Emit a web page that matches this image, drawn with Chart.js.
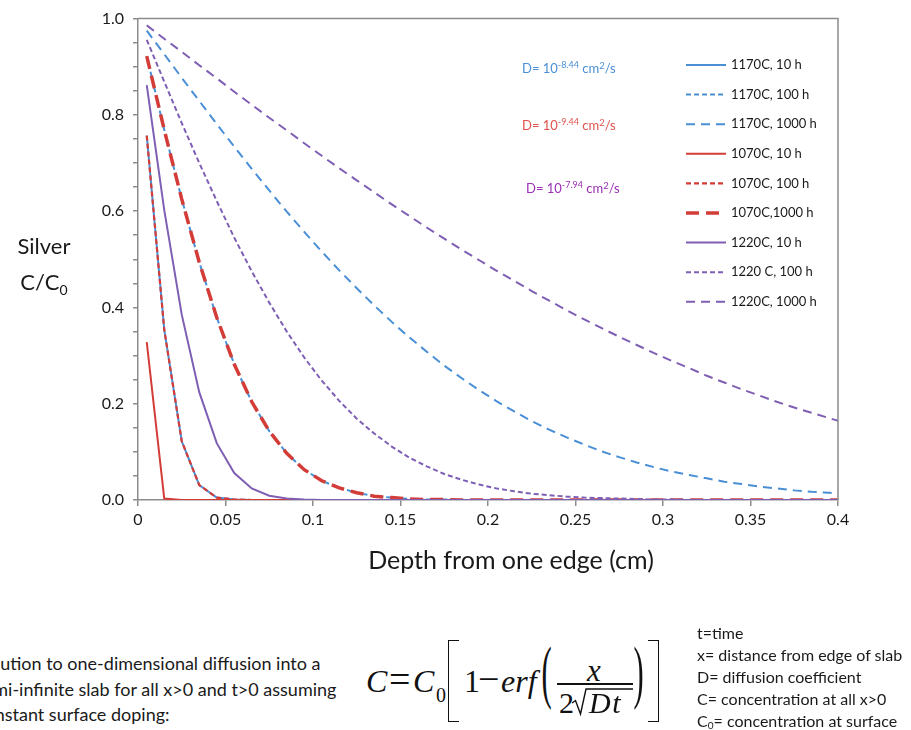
<!DOCTYPE html>
<html>
<head>
<meta charset="utf-8">
<script src="https://cdn.jsdelivr.net/npm/chart.js@4.4.0/dist/chart.umd.min.js"></script>
<style>
  body { margin: 0; background: #fff; }
  #page { position: relative; width: 911px; height: 730px; overflow: hidden; font-family: Lato, "Open Sans", sans-serif; color: #1a1a1a; }
  #myChart { position: absolute; left: 0; top: 0; }
  .abs { position: absolute; white-space: nowrap; }
  .ytitle { left: 0; width: 88px; text-align: center; font-size: 22px; line-height: 34px; }
  .xtitle { left: 311px; width: 400px; text-align: center; top: 544px; font-size: 25px; line-height: 30px; }
  .dnote { font-size: 13px; }
  .dnote sup { font-size: 9px; vertical-align: 5px; }
  .dnote .sq { font-size: 9.5px; vertical-align: 4px; }
  .notes { left: 697px; top: 622px; font-size: 16px; line-height: 22px; }
  .notes sub { font-size: 10px; vertical-align: -2px; }
  .intro { left: -24px; top: 651px; font-size: 18px; line-height: 25.5px; }

  /* formula pieces, placed one by one */
  .fx { position: absolute; white-space: nowrap; font-family: "Liberation Serif", "Times New Roman", serif; line-height: 1; color: #111; }
  .fx.it { font-style: italic; }
  .big { font-size: 32px; }
  .op { font-size: 38px; }
  .frac { font-size: 30px; }
  .tall { font-size: 34px; transform: scale(0.9, 2.05); transform-origin: 50% 20.5px; }
  .rule { position: absolute; background: #111; }
  .sq-l { position: absolute; border: 1.5px solid #111; border-right: none; }
  .sq-r { position: absolute; border: 1.5px solid #111; border-left: none; }
  .radical { position: absolute; left: 0; top: 0; overflow: visible; }
</style>
</head>
<body>
<div id="page">
  <canvas id="myChart" width="911" height="600"></canvas>

  <div class="abs ytitle" style="top:229px">Silver</div>
  <div class="abs ytitle" style="top:265px">C/C<sub style="font-size:14px">0</sub></div>
  <div class="abs xtitle">Depth from one edge (cm)</div>

  <div class="abs dnote" style="left:522px; top:59px; color:#4a8fd6">D= 10<sup>-8.44</sup> cm<span class="sq">2</span>/s</div>
  <div class="abs dnote" style="left:522px; top:116px; color:#e0524c">D= 10<sup>-9.44</sup> cm<span class="sq">2</span>/s</div>
  <div class="abs dnote" style="left:526px; top:179px; color:#9a2fb4">D= 10<sup>-7.94</sup> cm<span class="sq">2</span>/s</div>

  <div class="abs intro">Solution to one-dimensional diffusion into a<br>semi-infinite slab for all x&gt;0 and t&gt;0 assuming<br>constant surface doping:</div>

  <!-- C = C0 [ 1 - erf( x / 2 sqrt(Dt) ) ] -->
  <span class="fx it big" style="left:366px; top:665px">C</span>
  <span class="fx op" style="left:389px; top:660px">=</span>
  <span class="fx it big" style="left:413px; top:665px">C</span>
  <span class="fx" style="left:436px; top:685px; font-size:20px">0</span>
  <div class="sq-l" style="left:448px; top:640px; width:10px; height:80px"></div>
  <span class="fx big" style="left:464px; top:665px">1</span>
  <span class="fx op" style="left:478px; top:660px">&minus;</span>
  <span class="fx it big" style="left:501px; top:665px">erf</span>
  <span class="fx tall" style="left:541px; top:659px">(</span>
  <span class="fx it" style="left:587px; top:655px; font-size:31px">x</span>
  <div class="rule" style="left:557px; top:683px; width:76px; height:1.5px"></div>
  <span class="fx frac" style="left:559px; top:688px">2</span>
  <svg class="radical" width="911" height="730">
    <polyline points="572,703 575.5,700.5 580.5,714 586,689 633,689" fill="none" stroke="#111" stroke-width="1.4" />
  </svg>
  <span class="fx it frac" style="left:589px; top:688px; letter-spacing:1.5px">Dt</span>
  <span class="fx tall" style="left:633px; top:659px">)</span>
  <div class="sq-r" style="left:648px; top:640px; width:10px; height:80px"></div>

  <div class="abs notes">t=time<br>x= distance from edge of slab<br>D= diffusion coefficient<br>C= concentration at all x&gt;0<br>C<sub>0</sub>= concentration at surface</div>
</div>

<script>
  // Depth from one edge (cm)
  const depth = [
    0.005, 0.015, 0.025, 0.035, 0.045, 0.055, 0.065, 0.075, 0.085, 0.095,
    0.105, 0.115, 0.125, 0.135, 0.145, 0.155, 0.165, 0.175, 0.185, 0.195,
    0.205, 0.215, 0.225, 0.235, 0.245, 0.255, 0.265, 0.275, 0.285, 0.295,
    0.305, 0.315, 0.325, 0.335, 0.345, 0.355, 0.365, 0.375, 0.385, 0.395,
    0.405
  ];

  // C/C0 for each temperature and anneal time
  const c1170_10h = [
    0.757, 0.354, 0.122, 0.031, 0.005, 0.001, 0, 0, 0, 0,
    0, 0, 0, 0, 0, 0, 0, 0, 0, 0,
    0, 0, 0, 0, 0, 0, 0, 0, 0, 0,
    0, 0, 0, 0, 0, 0, 0, 0, 0, 0,
    0
  ];
  const c1170_100h = [
    0.922, 0.769, 0.625, 0.494, 0.379, 0.282, 0.204, 0.143, 0.097, 0.063,
    0.040, 0.025, 0.015, 0.008, 0.005, 0.002, 0.001, 0.001, 0, 0,
    0, 0, 0, 0, 0, 0, 0, 0, 0, 0,
    0, 0, 0, 0, 0, 0, 0, 0, 0, 0,
    0
  ];
  const c1170_1000h = [
    0.975, 0.926, 0.877, 0.829, 0.781, 0.734, 0.688, 0.643, 0.599, 0.557,
    0.516, 0.477, 0.440, 0.404, 0.370, 0.338, 0.308, 0.279, 0.253, 0.228,
    0.205, 0.184, 0.164, 0.146, 0.130, 0.115, 0.101, 0.089, 0.078, 0.068,
    0.059, 0.052, 0.045, 0.038, 0.033, 0.028, 0.024, 0.020, 0.017, 0.015,
    0.012
  ];
  const c1070_10h = [
    0.328, 0.003, 0, 0, 0, 0, 0, 0, 0, 0,
    0, 0, 0, 0, 0, 0, 0, 0, 0, 0,
    0, 0, 0, 0, 0, 0, 0, 0, 0, 0,
    0, 0, 0, 0, 0, 0, 0, 0, 0, 0,
    0
  ];
  const c1070_100h = [
    0.757, 0.354, 0.122, 0.031, 0.005, 0.001, 0, 0, 0, 0,
    0, 0, 0, 0, 0, 0, 0, 0, 0, 0,
    0, 0, 0, 0, 0, 0, 0, 0, 0, 0,
    0, 0, 0, 0, 0, 0, 0, 0, 0, 0,
    0
  ];
  const c1070_1000h = [
    0.922, 0.769, 0.625, 0.494, 0.379, 0.282, 0.204, 0.143, 0.097, 0.063,
    0.040, 0.025, 0.015, 0.008, 0.005, 0.002, 0.001, 0.001, 0, 0,
    0, 0, 0, 0, 0, 0, 0, 0, 0, 0,
    0, 0, 0, 0, 0, 0, 0, 0, 0, 0,
    0
  ];
  const c1220_10h = [
    0.862, 0.602, 0.385, 0.224, 0.118, 0.056, 0.024, 0.009, 0.003, 0.001,
    0, 0, 0, 0, 0, 0, 0, 0, 0, 0,
    0, 0, 0, 0, 0, 0, 0, 0, 0, 0,
    0, 0, 0, 0, 0, 0, 0, 0, 0, 0,
    0
  ];
  const c1220_100h = [
    0.956, 0.869, 0.783, 0.700, 0.621, 0.545, 0.475, 0.410, 0.350, 0.296,
    0.248, 0.206, 0.169, 0.138, 0.111, 0.088, 0.070, 0.054, 0.042, 0.032,
    0.024, 0.018, 0.013, 0.010, 0.007, 0.005, 0.004, 0.003, 0.002, 0.001,
    0.001, 0, 0, 0, 0, 0, 0, 0, 0, 0,
    0
  ];
  const c1220_1000h = [
    0.986, 0.958, 0.931, 0.903, 0.876, 0.848, 0.821, 0.794, 0.768, 0.741,
    0.715, 0.689, 0.664, 0.639, 0.614, 0.590, 0.566, 0.543, 0.520, 0.498,
    0.476, 0.455, 0.434, 0.414, 0.394, 0.375, 0.357, 0.339, 0.322, 0.305,
    0.289, 0.274, 0.258, 0.244, 0.230, 0.217, 0.204, 0.192, 0.181, 0.170,
    0.159
  ];

  const seriesLabels = [
    '1170C, 10 h', '1170C, 100 h', '1170C, 1000 h',
    '1070C, 10 h', '1070C, 100 h', '1070C,1000 h',
    '1220C, 10 h', '1220 C, 100 h', '1220C, 1000 h'
  ];
  const seriesValues = [
    c1170_10h, c1170_100h, c1170_1000h,
    c1070_10h, c1070_100h, c1070_1000h,
    c1220_10h, c1220_100h, c1220_1000h
  ];

  const BLUE = '#4a8fd6';
  const RED = '#d43c37';
  const PURPLE = '#7f5fb4';
  const AXIS = '#8c8c8c';

  const styles = [
    { color: BLUE, width: 2, dash: [] },
    { color: BLUE, width: 2, dash: [5, 3] },
    { color: BLUE, width: 2, dash: [9, 6] },
    { color: RED, width: 2, dash: [] },
    { color: RED, width: 2.2, dash: [5, 3] },
    { color: RED, width: 3.5, dash: [13, 7] },
    { color: PURPLE, width: 2, dash: [] },
    { color: PURPLE, width: 2, dash: [5, 3] },
    { color: PURPLE, width: 2, dash: [9, 6] }
  ];

  const datasets = seriesLabels.map((label, i) => ({
    label: label,
    data: depth.map((x, j) => ({ x: x, y: seriesValues[i][j] })),
    borderColor: styles[i].color,
    borderWidth: styles[i].width,
    borderDash: styles[i].dash,
    pointRadius: 0,
    tension: 0,
    fill: false,
    // later series sit on top
    order: seriesLabels.length - i
  }));

  // Frame on top/right edges plus the in-plot legend
  const framePlugin = {
    id: 'frame',
    afterDatasetsDraw(chart) {
      const { ctx, chartArea: a } = chart;
      ctx.save();
      ctx.strokeStyle = AXIS;
      ctx.lineWidth = 1.5;
      ctx.beginPath();
      ctx.moveTo(a.left, a.top);
      ctx.lineTo(a.right, a.top);
      ctx.lineTo(a.right, a.bottom);
      ctx.stroke();
      ctx.restore();
    },
    afterDraw(chart) {
      const ctx = chart.ctx;
      ctx.save();
      ctx.font = '13px Lato, sans-serif';
      ctx.textBaseline = 'middle';
      seriesLabels.forEach((label, i) => {
        const y = 65 + i * 29.6;
        ctx.strokeStyle = styles[i].color;
        ctx.lineWidth = styles[i].width;
        ctx.setLineDash(styles[i].dash);
        ctx.beginPath();
        ctx.moveTo(686, y);
        ctx.lineTo(726, y);
        ctx.stroke();
        ctx.setLineDash([]);
        ctx.fillStyle = '#1a1a1a';
        ctx.fillText(label, 731, y);
      });
      ctx.restore();
    }
  };

  const ctx = document.getElementById('myChart').getContext('2d');
  const myChart = new Chart(ctx, {
    type: 'line',
    data: { datasets: datasets },
    options: {
      responsive: false,
      animation: false,
      layout: { padding: { top: 17, right: 73, left: 0, bottom: 0 } },
      plugins: {
        legend: { display: false },
        tooltip: { enabled: false }
      },
      scales: {
        x: {
          type: 'linear',
          min: 0,
          max: 0.4,
          ticks: {
            stepSize: 0.05,
            color: '#1a1a1a',
            font: { family: 'Lato', size: 16 },
            padding: 4,
            autoSkip: false,
            maxRotation: 0,
            callback: v => String(Number(v.toFixed(2)))
          },
          grid: { drawOnChartArea: false, tickLength: 6, color: AXIS, lineWidth: 1.5 },
          border: { color: AXIS, width: 1.5 },
          afterFit(scale) { scale.height = 100; }
        },
        y: {
          min: 0,
          max: 1,
          ticks: {
            stepSize: 0.05,
            autoSkip: false,
            color: '#1a1a1a',
            font: { family: 'Lato', size: 16 },
            padding: 9,
            callback(v) {
              const k = v * 5;
              return Math.abs(k - Math.round(k)) < 1e-6 ? v.toFixed(1) : '';
            }
          },
          grid: { drawOnChartArea: false, tickLength: 5, color: AXIS, lineWidth: 1.5 },
          border: { color: AXIS, width: 1.5 },
          afterFit(scale) { scale.width = 138; }
        }
      }
    },
    plugins: [framePlugin]
  });
</script>
</body>
</html>
